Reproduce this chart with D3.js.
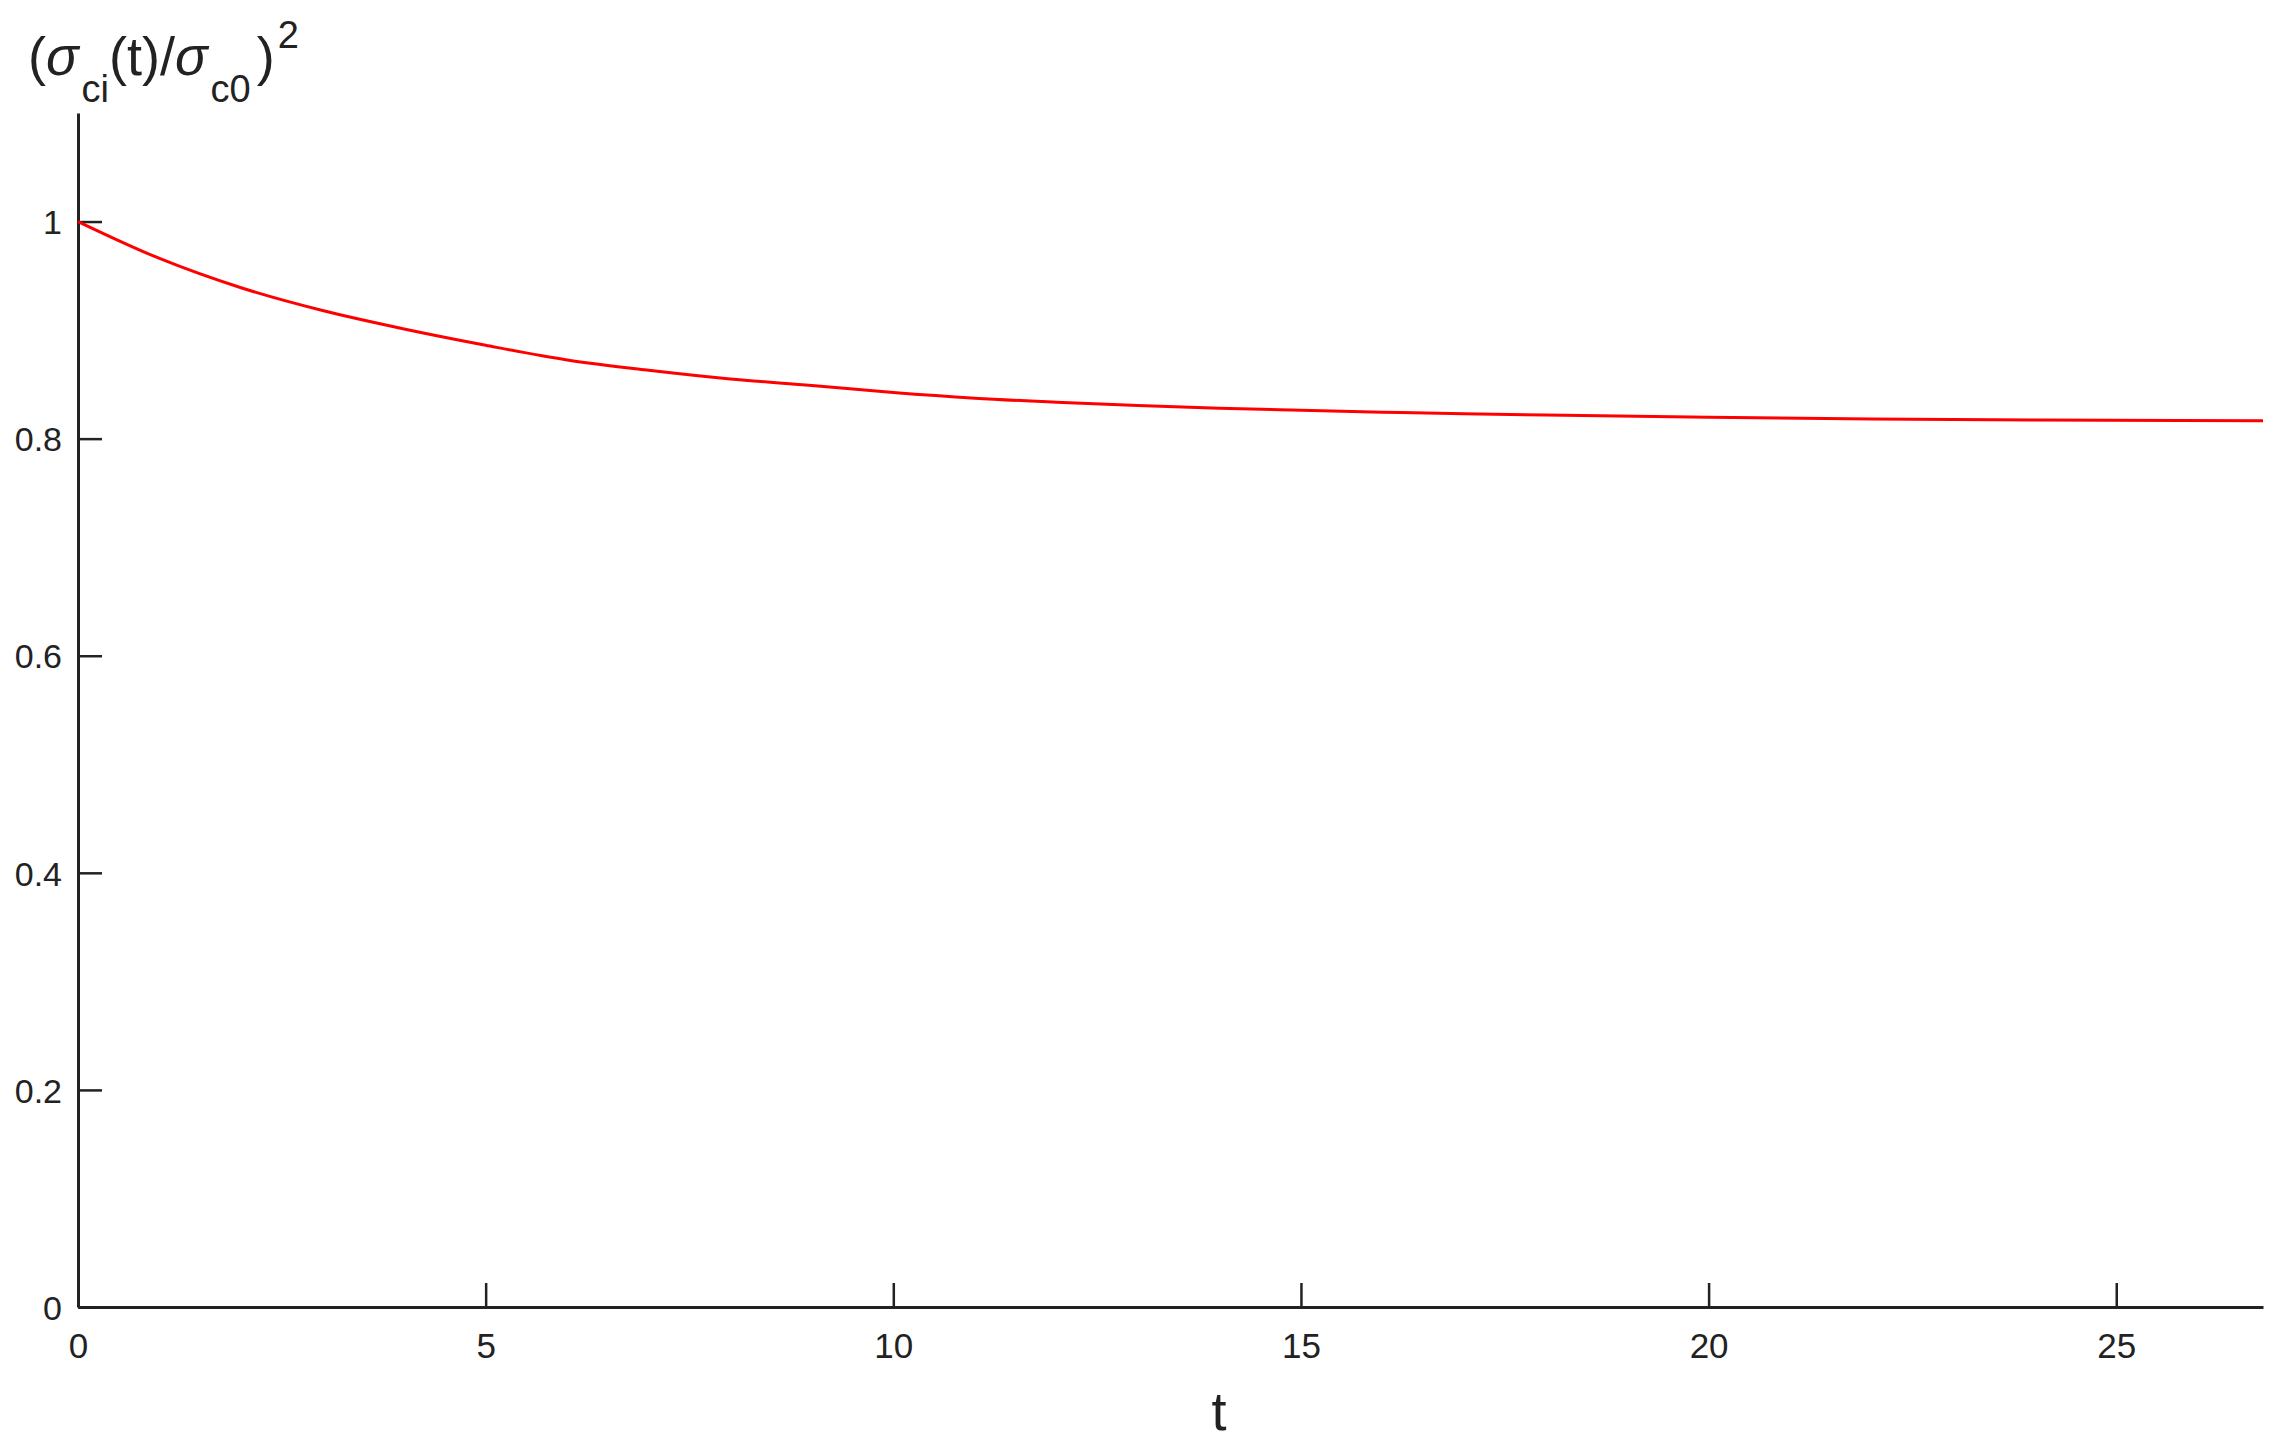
<!DOCTYPE html>
<html>
<head>
<meta charset="utf-8">
<script src="https://cdn.jsdelivr.net/npm/d3@7"></script>
<style>
	body { margin: 0; background: #fff; }
	svg { display: block; font-family: "Liberation Sans", Arial, sans-serif; }
</style>
</head>
<body>
<div class="chart"></div>
<script>
// values
var tValues = [0, 1, 2, 3, 4, 5, 6, 7, 8, 9, 10, 11, 12, 13, 14, 15, 16, 17, 18, 20, 22, 24, 26.8]
var ratioValues = [1.0, 0.966, 0.939, 0.918, 0.901, 0.886, 0.8725, 0.863, 0.855, 0.849, 0.8425, 0.8373, 0.8336, 0.8305, 0.828, 0.8261, 0.8244, 0.8229, 0.8218, 0.8198, 0.8182, 0.8171, 0.8165]
var xTicks = [0, 5, 10, 15, 20, 25]
var yTicks = [0, 0.2, 0.4, 0.6, 0.8, 1]
var xDomain = [0, 26.8]
var yDomain = [0, 1.1]

document.addEventListener('DOMContentLoaded', function() {
	var width = 2281, height = 1443
	var left = 78, right = 2263, top = 113, bottom = 1307
	var axisColor = '#222'

	var svg = d3.select('.chart')
		.append('svg')
		.attr('width', width)
		.attr('height', height)

	var x = d3.scaleLinear().domain(xDomain).range([left, right])
	var y = d3.scaleLinear().domain(yDomain).range([bottom, top])

	//x axis, ticks pointing inward
	var xAxis = svg.append('g')
		.attr('transform', 'translate(0,' + bottom + ')')
		.call(d3.axisBottom(x).tickValues(xTicks).tickSizeInner(-24).tickSizeOuter(0).tickPadding(0).tickFormat(d3.format('d')))
	xAxis.select('.domain').attr('stroke', axisColor).attr('stroke-width', 3)
	xAxis.selectAll('.tick line').attr('stroke', axisColor).attr('stroke-width', 2.5)
	xAxis.selectAll('.tick text')
		.attr('y', 51)
		.attr('dy', 0)
		.attr('fill', axisColor)
		.style('font-size', '35px')

	//y axis
	var yAxis = svg.append('g')
		.attr('transform', 'translate(' + left + ',0)')
		.call(d3.axisLeft(y).tickValues(yTicks).tickSizeInner(-24).tickSizeOuter(0).tickPadding(0).tickFormat(function(d){ return d3.format('')(+d.toFixed(1)) }))
	yAxis.select('.domain').attr('stroke', axisColor).attr('stroke-width', 3)
	yAxis.selectAll('.tick line').attr('stroke', axisColor).attr('stroke-width', 2.5)
	yAxis.selectAll('.tick text')
		.attr('x', -16)
		.attr('dy', '0.36em')
		.attr('fill', axisColor)
		.style('font-size', '34px')

	var data = tValues.map(function(t, i){ return {t: t, v: ratioValues[i]} })

	var line = d3.line()
		.x(function(d){ return x(d.t) })
		.y(function(d){ return y(d.v) })
		.curve(d3.curveMonotoneX)

	svg.append('path')
		.datum(data)
		.attr('d', line)
		.attr('fill', 'none')
		.attr('stroke', '#ff0000')
		.attr('stroke-width', 3)

	//axis titles
	svg.append('text')
		.attr('x', 1219)
		.attr('y', 1430)
		.attr('text-anchor', 'middle')
		.attr('fill', axisColor)
		.style('font-size', '54px')
		.text('t')

	var yTitle = svg.append('text')
		.attr('x', 28)
		.attr('y', 75)
		.attr('fill', axisColor)
		.style('font-size', '54px')
	yTitle.append('tspan').text('(')
	yTitle.append('tspan').style('font-style', 'italic').text('σ')
	yTitle.append('tspan').attr('dy', 27).attr('dx', 3).style('font-size', '38px').text('ci')
	yTitle.append('tspan').attr('dy', -27).text('(t)/')
	yTitle.append('tspan').style('font-style', 'italic').text('σ')
	yTitle.append('tspan').attr('dy', 27).attr('dx', 3).style('font-size', '38px').text('c0')
	yTitle.append('tspan').attr('dy', -27).attr('dx', 6).text(')')
	yTitle.append('tspan').attr('dy', -27).attr('dx', 3).style('font-size', '38px').text('2')
})
</script>
</body>
</html>
